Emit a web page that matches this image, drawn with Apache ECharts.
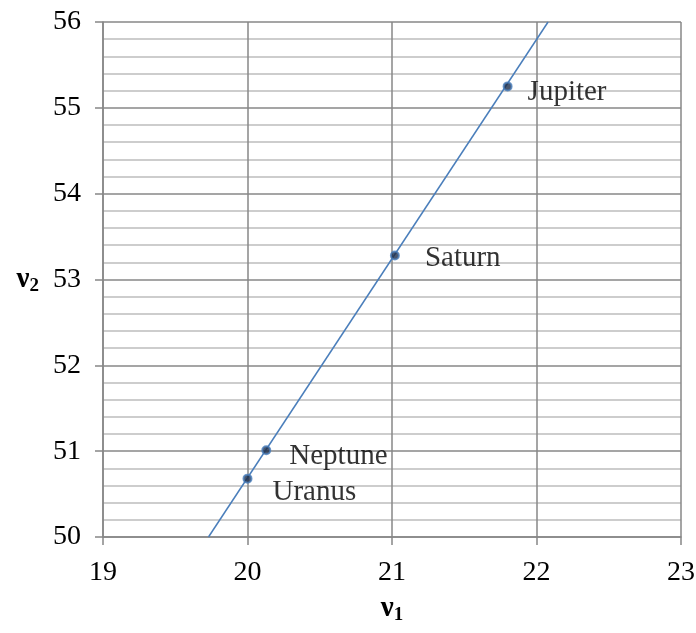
<!DOCTYPE html>
<html>
<head>
<meta charset="utf-8">
<script src="https://cdn.jsdelivr.net/npm/echarts@6/dist/echarts.min.js"></script>
<style>html,body{margin:0;padding:0;background:#fff}#c{width:696px;height:633px}</style>
</head>
<body>
<div id="c"></div>
<script>
// Data
var planets = ['Uranus', 'Neptune', 'Saturn', 'Jupiter'];
var v1 = [20.0, 20.13, 21.02, 21.8];
var v2 = [50.68, 51.01, 53.28, 55.25];
var trendX = [19.73, 22.08];
var trendY = [50, 56];
var xTicks = [19, 20, 21, 22, 23];
var yTicks = [50, 51, 52, 53, 54, 55, 56];

var labelOffsets = {
  Uranus: [20, 14],
  Neptune: [18, 6],
  Saturn: [25, 3],
  Jupiter: [15, 6]
};

var font = '"Liberation Serif", "Times New Roman", serif';
var chart = echarts.init(document.getElementById('c'));

var pts = planets.map(function (p, i) {
  return {
    value: [v1[i], v2[i]],
    name: p,
    label: {
      show: true,
      position: 'right',
      distance: 0,
      offset: labelOffsets[p],
      formatter: p,
      fontFamily: font,
      fontSize: 29,
      color: '#000'
    }
  };
});

var nameRich = {
  b: { fontFamily: font, fontWeight: 'bold', fontSize: 29, color: '#000' },
  s: { fontFamily: font, fontWeight: 'bold', fontSize: 19, color: '#000', verticalAlign: 'bottom', padding: [14, 0, 0, 0] }
};

chart.setOption({
  animation: false,
  backgroundColor: '#fff',
  grid: { left: 103, right: 15, top: 22, bottom: 96, outerBoundsMode: 'none', containLabel: false },
  xAxis: {
    type: 'value',
    min: xTicks[0], max: xTicks[xTicks.length - 1], interval: 1,
    name: '{b|ν}{s|1}',
    nameLocation: 'middle',
    nameGap: 55,
    nameTextStyle: { rich: nameRich },
    axisLine: { show: true, lineStyle: { color: '#878787', width: 1.5 } },
    axisTick: { show: true, length: 8, lineStyle: { color: '#878787', width: 1.5 } },
    axisLabel: { fontFamily: font, fontSize: 28, color: '#000', margin: 22 },
    splitLine: { show: true, lineStyle: { color: '#878787', width: 1.5 } }
  },
  yAxis: {
    type: 'value',
    min: yTicks[0], max: yTicks[yTicks.length - 1], interval: 1,
    name: '{b|ν}{s|2}',
    nameLocation: 'middle',
    nameRotate: 0,
    nameGap: 64,
    nameTextStyle: { rich: nameRich },
    axisLine: { show: true, lineStyle: { color: '#878787', width: 1.5 } },
    axisTick: { show: true, length: 8, lineStyle: { color: '#878787', width: 1.5 } },
    axisLabel: { fontFamily: font, fontSize: 28, color: '#000', margin: 22 },
    splitLine: { show: true, lineStyle: { color: '#878787', width: 1.5 } },
    minorTick: { show: false, splitNumber: 5 },
    minorSplitLine: { show: true, lineStyle: { color: '#bdbdbd', width: 1.5 } }
  },
  series: [
    {
      type: 'line',
      data: trendX.map(function (x, i) { return [x, trendY[i]]; }),
      showSymbol: false,
      symbol: 'none',
      lineStyle: { color: '#4a7ebb', width: 1.5 },
      silent: true,
      z: 3
    },
    {
      type: 'scatter',
      data: pts,
      symbol: 'circle',
      symbolSize: 8,
      itemStyle: { color: '#1c2c48', borderColor: '#4a7ebb', borderWidth: 2 },
      z: 4
    }
  ]
});
</script>
</body>
</html>
